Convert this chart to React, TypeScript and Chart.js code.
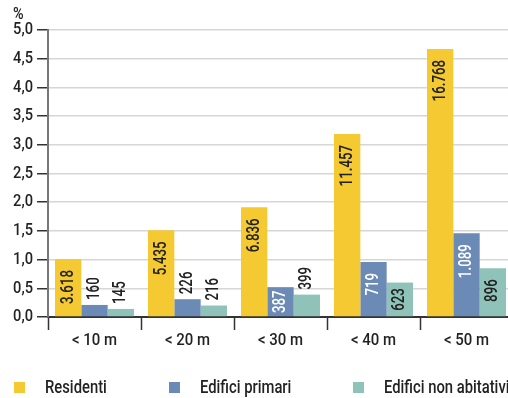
import React, { useEffect, useRef } from "react";
import { Chart, registerables } from "chart.js";

Chart.register(...registerables);

// Distance classes and the three series (share in %, with absolute counts as labels)
const categories = ["< 10 m", "< 20 m", "< 30 m", "< 40 m", "< 50 m"];
const seriesNames = ["Residenti", "Edifici primari", "Edifici non abitativi"];

const residentiPct = [1.01, 1.51, 1.91, 3.19, 4.67];
const residentiCount = ["3.618", "5.435", "6.836", "11.457", "16.768"];

const primariPct = [0.21, 0.31, 0.52, 0.96, 1.46];
const primariCount = ["160", "226", "387", "719", "1.089"];

const nonAbitPct = [0.14, 0.2, 0.39, 0.6, 0.85];
const nonAbitCount = ["145", "216", "399", "623", "896"];

const yTicks = { min: 0, max: 5, step: 0.5 };
const unitLabel = "%";

const COLORS = ["#F5C932", "#6B8AB5", "#8FC3B9"];
const INSIDE_TEXT = ["#222222", "#ffffff", "#222222"];
const FONT = "Roboto, 'Liberation Sans', sans-serif";
const WEIGHT = 500;
const TEXT = "#222222";

const countLabels = [residentiCount, primariCount, nonAbitCount];

// Condensed text: a regular face squeezed horizontally
function drawNarrow(
  ctx: CanvasRenderingContext2D,
  text: string,
  x: number,
  y: number,
  size: number,
  sx: number,
  align: CanvasTextAlign,
  color: string,
  rotate = false
) {
  ctx.save();
  ctx.font = `${WEIGHT} ${size}px ${FONT}`;
  ctx.textAlign = align;
  ctx.textBaseline = "middle";
  ctx.fillStyle = color;
  ctx.translate(x, y);
  if (rotate) ctx.rotate(-Math.PI / 2);
  ctx.scale(sx, 1);
  ctx.fillText(text, 0, 0);
  ctx.restore();
}

function narrowWidth(ctx: CanvasRenderingContext2D, text: string, size: number, sx: number) {
  ctx.save();
  ctx.font = `${WEIGHT} ${size}px ${FONT}`;
  const w = ctx.measureText(text).width * sx;
  ctx.restore();
  return w;
}

// Axis tick labels (y values with decimal comma, x categories)
const axisLabelPlugin = {
  id: "axisLabels",
  afterDraw(chart: any) {
    const ctx = chart.ctx as CanvasRenderingContext2D;
    const ys = chart.scales.y;
    ys.ticks.forEach((t: any, i: number) => {
      const py = ys.getPixelForTick(i);
      const label = Number(t.value).toFixed(1).replace(".", ",");
      drawNarrow(ctx, label, ys.right - 15, py, 17, 0.86, "right", TEXT);
    });
    const xs = chart.scales.x;
    chart.data.labels.forEach((lab: string, i: number) => {
      const px = xs.getPixelForTick(i);
      drawNarrow(ctx, lab, px, xs.top + 24, 17, 0.88, "center", TEXT);
    });
    drawNarrow(ctx, unitLabel, 13, 15, 17, 0.85, "left", TEXT);
  },
};

// Vertical value labels: inside the bar near its top when they fit, otherwise above it
const valueLabelPlugin = {
  id: "valueLabels",
  afterDatasetsDraw(chart: any) {
    const ctx = chart.ctx as CanvasRenderingContext2D;
    const size = 17.5;
    const sx = 0.76;
    chart.data.datasets.forEach((_ds: any, i: number) => {
      const meta = chart.getDatasetMeta(i);
      meta.data.forEach((bar: any, j: number) => {
        const { x, y, base } = bar.getProps(["x", "y", "base"], true);
        const label = countLabels[i][j];
        const len = narrowWidth(ctx, label, size, sx);
        const h = base - y;
        if (h >= len + 5) {
          const gap = Math.min(11, (h - len) / 2);
          drawNarrow(ctx, label, x, y + gap, size, sx, "right", INSIDE_TEXT[i], true);
        } else {
          drawNarrow(ctx, label, x, y - 5, size, sx, "left", TEXT, true);
        }
      });
    });
  },
};

// Legend row at the bottom
const legendPlugin = {
  id: "bottomLegend",
  afterDraw(chart: any) {
    const ctx = chart.ctx as CanvasRenderingContext2D;
    const boxX = [14, 169, 353];
    const textX = [45, 200, 384];
    const yMid = 388;
    chart.data.datasets.forEach((ds: any, i: number) => {
      ctx.save();
      ctx.fillStyle = ds.backgroundColor;
      ctx.fillRect(boxX[i], yMid - 6, 11, 11);
      ctx.restore();
      drawNarrow(ctx, ds.label, textX[i], yMid, 18.5, 0.8, "left", TEXT);
    });
  },
};

export default function App() {
  const canvasRef = useRef<HTMLCanvasElement | null>(null);

  useEffect(() => {
    document.body.style.margin = "0";
    const canvas = canvasRef.current;
    if (!canvas) return;
    const chart = new Chart(canvas, {
      type: "bar",
      data: {
        labels: categories,
        datasets: [
          { label: seriesNames[0], data: residentiPct, backgroundColor: COLORS[0] },
          { label: seriesNames[1], data: primariPct, backgroundColor: COLORS[1] },
          { label: seriesNames[2], data: nonAbitPct, backgroundColor: COLORS[2] },
        ],
      },
      options: {
        responsive: false,
        animation: false,
        devicePixelRatio: 1,
        layout: { padding: { top: 30, right: 0, bottom: 0, left: 0 } },
        datasets: {
          bar: { categoryPercentage: 0.85, barPercentage: 1.0, borderWidth: 0 },
        },
        plugins: {
          legend: { display: false },
          tooltip: { enabled: false },
        },
        scales: {
          x: {
            grid: {
              offset: true,
              drawOnChartArea: false,
              drawTicks: true,
              tickLength: 13,
              tickColor: "#333333",
              tickWidth: 1.5,
            },
            border: { color: "#333333", width: 2 },
            ticks: { display: false },
            afterFit: (s: any) => {
              s.height = 81;
            },
          },
          y: {
            min: yTicks.min,
            max: yTicks.max,
            ticks: { stepSize: yTicks.step, display: false },
            grid: {
              color: "#d6d6d6",
              lineWidth: 1.5,
              tickLength: 11,
              tickColor: "#333333",
              tickWidth: 1.5,
            },
            border: { color: "#777777", width: 2 },
            afterFit: (s: any) => {
              s.width = 48;
            },
          },
        },
      },
      plugins: [valueLabelPlugin, axisLabelPlugin, legendPlugin],
    });
    return () => chart.destroy();
  }, []);

  return (
    <div style={{ position: "absolute", left: 0, top: 0, width: 508, height: 398, overflow: "hidden", background: "#fff" }}>
      <canvas ref={canvasRef} width={513} height={398} style={{ display: "block", width: 513, height: 398 }} />
    </div>
  );
}
